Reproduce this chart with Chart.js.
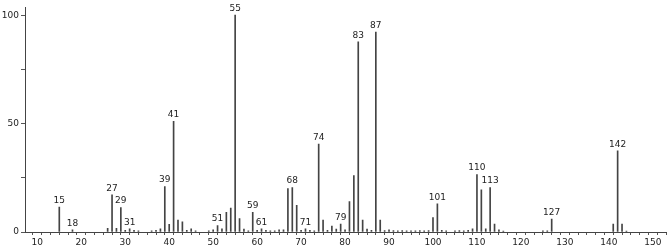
<!DOCTYPE html>
<html>
<head>
<meta charset="utf-8">
<script src="https://cdn.jsdelivr.net/npm/chart.js@4/dist/chart.umd.min.js"></script>
<style>
html,body{margin:0;padding:0;background:#fff;}
#wrap{width:667px;height:249px;}
</style>
</head>
<body>
<div id="wrap"><canvas id="c" width="667" height="249"></canvas></div>
<script>
// m/z values
const masses = [15,18,26,27,28,29,30,31,32,33,36,37,38,39,40,41,42,43,44,45,46,49,50,51,52,53,54,55,56,57,58,59,60,61,62,63,64,65,66,67,68,69,70,71,72,73,74,75,76,77,78,79,80,81,82,83,84,85,86,87,88,89,90,91,92,93,94,95,96,97,98,99,100,101,102,103,105,106,107,108,109,110,111,112,113,114,115,116,125,126,127,141,142,143,144];
// relative intensities
const intensities = [11.5,1,1.7,17.2,1.7,11.3,0.8,1.5,0.8,0.5,0.5,0.8,1.5,21,3.5,51,5.5,4.7,0.8,1.5,0.5,0.5,1,3,1.5,9.1,11,100,6.2,1.4,0.5,9.1,0.8,1.5,0.8,0.5,0.5,1,1,20,20.5,12.3,0.8,1.5,0.8,0.5,40.5,5.5,0.8,2.7,1.3,3.6,1,14,26,87.7,5.5,1.4,0.8,92.2,5.5,0.6,1,0.6,0.5,0.6,0.5,0.5,0.5,0.6,0.5,0.6,6.6,13,0.8,0.5,0.5,0.6,0.5,0.8,1.5,26.5,19.5,1.5,20.5,3.6,1,0.4,0.5,0.5,6,3.6,37.4,3.6,0.4];
// peaks that carry a label
const labeledMasses = [15,18,27,29,31,39,41,51,55,59,61,68,71,74,79,83,87,101,110,113,127,142];
// axis tick labels
const xTickLabels = [10,20,30,40,50,60,70,80,90,100,110,120,130,140,150];
const yTickLabels = [0,50,100];
const yTicks = [0,25,50,75,100];

const points = masses.map((m,i)=>({x:m,y:intensities[i]}));
const FONT = "9px 'DejaVu Sans'";

const peakLabels = {
  id:'peakLabels',
  afterDatasetsDraw(chart){
    const ctx = chart.ctx, xs = chart.scales.x, ys = chart.scales.y;
    ctx.save();
    ctx.font = FONT;
    ctx.fillStyle = '#222';
    ctx.textAlign = 'center';
    ctx.textBaseline = 'bottom';
    labeledMasses.forEach(m=>{
      const i = masses.indexOf(m);
      if(i<0) return;
      const px = xs.getPixelForValue(m);
      const py = ys.getPixelForValue(intensities[i]);
      ctx.fillText(String(m), px, py-2);
    });
    ctx.restore();
  }
};

new Chart(document.getElementById('c'),{
  type:'bar',
  data:{datasets:[{data:points,backgroundColor:'#444',borderWidth:0,barThickness:1}]},
  options:{
    responsive:false,
    animation:false,
    layout:{padding:{top:5,right:1,left:0,bottom:0}},
    plugins:{legend:{display:false},tooltip:{enabled:false}},
    scales:{
      x:{
        type:'linear',min:7.2,max:153,
        offset:false,
        afterBuildTicks(axis){
          const t=[];for(let v=8;v<=152;v+=2)t.push({value:v});axis.ticks=t;
        },
        afterFit(s){s.height=17;},
        grid:{display:true,drawOnChartArea:false,drawTicks:true,tickLength:3,color:'#555',tickColor:'#555'},
        border:{display:true,color:'#444',width:1},
        ticks:{
          autoSkip:false,maxRotation:0,padding:2,color:'#222',font:{family:'DejaVu Sans',size:9},
          callback(v){return xTickLabels.includes(v)?String(v):'';}
        }
      },
      y:{
        min:0,max:103.6,
        afterBuildTicks(axis){axis.ticks=yTicks.map(v=>({value:v}));},
        afterFit(s){s.width=25;},
        grid:{display:true,drawOnChartArea:false,drawTicks:true,tickLength:4,color:'#555',tickColor:'#555'},
        border:{display:true,color:'#444',width:1},
        ticks:{
          autoSkip:false,padding:2,color:'#222',font:{family:'DejaVu Sans',size:9},
          callback(v){return yTickLabels.includes(v)?String(v):'';}
        }
      }
    }
  },
  plugins:[peakLabels]
});
</script>
</body>
</html>
